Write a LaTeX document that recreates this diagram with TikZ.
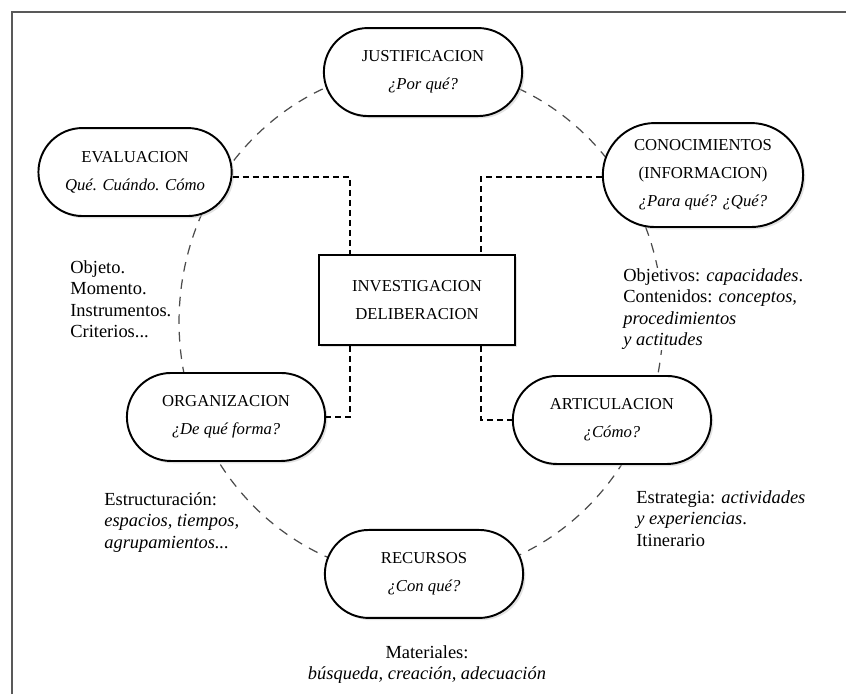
\documentclass[tikz,border=0pt]{standalone}
\usepackage{fontspec}
\setmainfont{Liberation Serif}
\usetikzlibrary{positioning,shapes.misc,shadows,calc}
\tikzstyle{pill}=[rounded rectangle, draw=black, line width=1.1pt, fill=white, align=center, minimum width=4.2cm, minimum height=1.76cm, font=\fontsize{9.5}{16}\selectfont, drop shadow={shadow xshift=1.3pt, shadow yshift=-1.3pt, fill=gray!45}]
\tikzstyle{core}=[rectangle, draw=black, line width=1.1pt, fill=white, align=center, minimum width=3.92cm, minimum height=1.8cm, font=\fontsize{9.5}{16}\selectfont, drop shadow={shadow xshift=1.3pt, shadow yshift=-1.3pt, fill=gray!45}]
\tikzstyle{note}=[inner sep=0pt, align=left, anchor=north west, font=\fontsize{10.5}{12.3}\selectfont]
\tikzstyle{mylink}=[line width=1.25pt, dash pattern=on 3.4pt off 2.3pt]
\tikzstyle{ring}=[gray!60!black, line width=0.7pt, dash pattern=on 5.5pt off 4.5pt]
\pgfdeclarelayer{background}
\pgfsetlayers{background,main}

\begin{document}
\begin{tikzpicture}[x=0.02cm, y=-0.02cm]

        \useasboundingbox (0,0) rectangle (846,694);
        \draw[gray!70!black, line width=1pt] (12,694) -- (12,12) -- (846,12);

        \node (inv) [core] at (417,300) {INVESTIGACION\\DELIBERACION};

        \node (justif) [pill, above of=inv, node distance=4.56cm, xshift=0.12cm] {JUSTIFICACION\\\textit{¿Por qué?}};
        \node (eval) [pill, left of=inv, node distance=5.64cm, yshift=2.56cm, minimum width=4.1cm] {EVALUACION\\\textit{Qué. Cuándo. Cómo}};
        \node (cono) [pill, right of=inv, node distance=5.72cm, yshift=2.5cm, minimum height=2.08cm, minimum width=4.24cm] {CONOCIMIENTOS\\(INFORMACION)\\\textit{¿Para qué? ¿Qué?}};
        \node (org) [pill, left of=inv, node distance=3.82cm, yshift=-2.34cm] {ORGANIZACION\\\textit{¿De qué forma?}};
        \node (art) [pill, right of=inv, node distance=3.9cm, yshift=-2.4cm] {ARTICULACION\\\textit{¿Cómo?}};
        \node (recur) [pill, below of=inv, node distance=5.48cm, xshift=0.14cm] {RECURSOS\\\textit{¿Con qué?}};

        % Notes
        \node (objeto) [note] at (70,260) {Objeto.\\Momento.\\Instrumentos.\\Criterios...};
        \node (objetivos) [note, fill=white] at (623,268) {Objetivos: \textit{capacidades}.\\Contenidos: \textit{conceptos,}\\\textit{procedimientos}\\\textit{y actitudes}};
        \node (estruct) [note] at (104,492) {Estructuración:\\\textit{espacios, tiempos,}\\\textit{agrupamientos...}};
        \node (estrat) [note] at (636,490) {Estrategia: \textit{actividades}\\\textit{y experiencias}.\\Itinerario};
        \node (mater) [note, anchor=north, align=center] at (427,645) {Materiales:\\\textit{búsqueda, creación, adecuación}};

        %Arrows
        \draw[mylink] ([yshift=-0.1cm]eval.east) -| ([xshift=-1.34cm]inv.north);
        \draw[mylink] ([yshift=-0.04cm]cono.west) -| ([xshift=1.28cm]inv.north);
        \draw[mylink] ([xshift=-1.34cm]inv.south) |- (org.east);
        \draw[mylink] ([xshift=1.28cm]inv.south) |- (art.west);

    \begin{pgfonlayer}{background}
        \coordinate (hub) at (421,322);
        \draw[ring] (hub) ellipse [x radius=4.84cm, y radius=5.1cm];
    \end{pgfonlayer}

\end{tikzpicture}
\end{document}
